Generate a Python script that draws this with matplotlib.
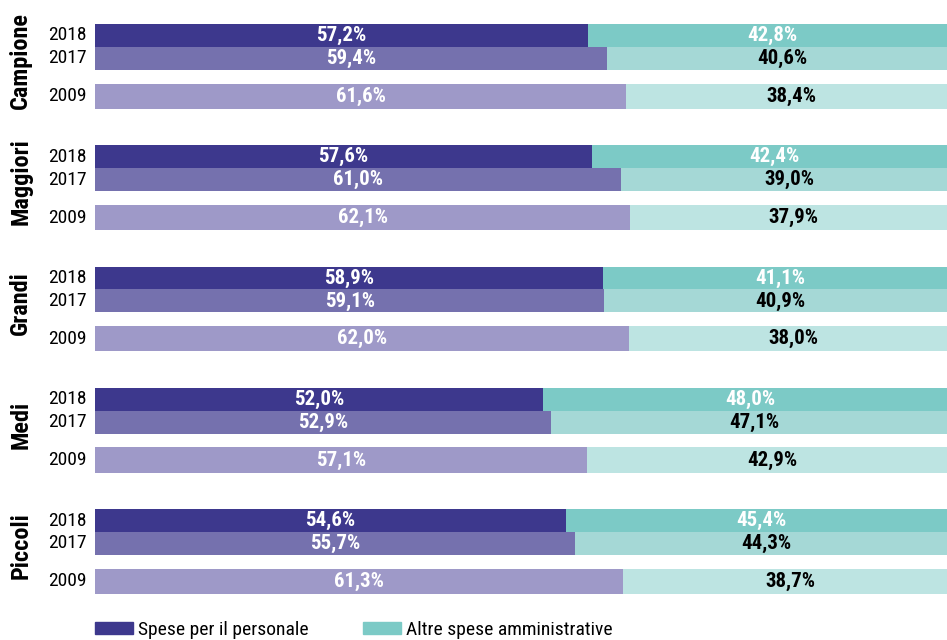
import matplotlib.pyplot as plt
from matplotlib.patches import Patch

gruppi = ['Campione', 'Maggiori', 'Grandi', 'Medi', 'Piccoli']
anni = ['2018', '2017', '2009']
personale = [
    [57.2, 59.4, 61.6],
    [57.6, 61.0, 62.1],
    [58.9, 59.1, 62.0],
    [52.0, 52.9, 57.1],
    [54.6, 55.7, 61.3],
]
altre = [
    [42.8, 40.6, 38.4],
    [42.4, 39.0, 37.9],
    [41.1, 40.9, 38.0],
    [48.0, 47.1, 42.9],
    [45.4, 44.3, 38.7],
]

col_pers = ['#3d388d', '#7571ae', '#9e99c8']
col_altre = ['#7ccac6', '#a5d8d6', '#bde4e2']
col_txt_altre = ['white', 'black', 'black']

plt.rcParams['font.family'] = ['Roboto Condensed', 'DejaVu Sans']

fig = plt.figure(figsize=(9.47, 6.4), dpi=100)
ax = fig.add_axes([95 / 947, 1 - 594 / 640, 852 / 947, 570 / 640])

offs = [0, 1, 2.65]
alt = [1.0, 1.0, 1.1]
passo = 5.28
for g, nome in enumerate(gruppi):
    for i in range(3):
        y = g * passo + offs[i]
        p = personale[g][i]
        a = altre[g][i]
        ax.barh(y, p, height=alt[i], color=col_pers[i], left=0)
        ax.barh(y, a, height=alt[i], color=col_altre[i], left=p)
        ax.text(p / 2, y, f'{p:.1f}%'.replace('.', ','), ha='center', va='center',
                color='white', fontsize=15, fontweight='bold')
        ax.text(p + a / 2, y, f'{a:.1f}%'.replace('.', ','), ha='center', va='center',
                color=col_txt_altre[i], fontsize=15, fontweight='bold')
        ax.text(-1.0, y, anni[i], ha='right', va='center', fontsize=14)
    ax.text(-8.6, g * passo + 1.1, nome, rotation=90, ha='center', va='center',
            fontsize=17.5, fontweight='bold')

# la barra continua oltre il bordo destro
ax.set_xlim(0, 852 / 862 * 100)
ax.set_ylim(4 * passo + 2.65 + 0.55, -0.5)
ax.axis('off')

handles = [Patch(color=col_pers[0], label='Spese per il personale'),
           Patch(color=col_altre[0], label='Altre spese amministrative')]
fig.legend(handles=handles, loc='center left', bbox_to_anchor=(95 / 947, 1 - 630 / 640), ncol=2,
           frameon=False, fontsize=14, handlelength=1.96, handleheight=0.62,
           handletextpad=0.26, columnspacing=2.8, borderpad=0, borderaxespad=0)

fig.savefig('out.png', dpi=100)
